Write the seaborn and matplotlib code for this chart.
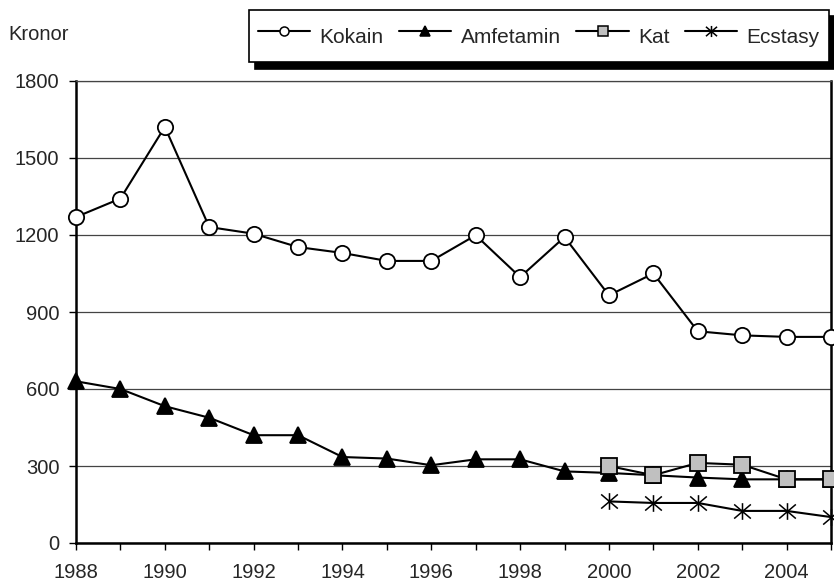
import numpy as np
import pandas as pd
import matplotlib
matplotlib.use("Agg")
import matplotlib.pyplot as plt
import seaborn as sns
from matplotlib.path import Path

# data (kronor per gram)
years = list(range(1988, 2006))
kokain = [1270, 1342, 1621, 1231, 1205, 1153, 1130, 1099, 1099, 1199,
          1036, 1192, 965, 1050, 825, 809, 803, 803]
amfetamin = [630, 600, 533, 488, 420, 420, 335, 329, 303, 326,
             326, 279, 273, 264, 255, 248, 248, 248]
kat_years = [2000, 2001, 2002, 2003, 2004, 2005]
kat = [300, 264, 312, 305, 248, 248]
ecstasy_years = [2000, 2001, 2002, 2003, 2004, 2005]
ecstasy = [162, 156, 156, 125, 125, 101]

sns.set_style("white")
plt.rcParams['font.family'] = ['Liberation Sans', 'DejaVu Sans']

fig = plt.figure(figsize=(8.34, 5.84), dpi=100)
ax = fig.add_axes([76 / 834, 1 - 543 / 584, 755 / 834, 462 / 584])

# asterisk marker like Excel (X plus vertical bar)
star = Path([(-1, -0.85), (1, 0.85), (-1, 0.85), (1, -0.85), (0, -1), (0, 1)],
            [Path.MOVETO, Path.LINETO, Path.MOVETO, Path.LINETO, Path.MOVETO, Path.LINETO])

common = dict(color='black', linewidth=1.5, clip_on=False, markeredgecolor='black')
sns.lineplot(x=years, y=kokain, ax=ax, marker='o', markersize=11, markeredgewidth=1.3,
             markerfacecolor='white', label='Kokain', zorder=5, **common)
sns.lineplot(x=years, y=amfetamin, ax=ax, marker='^', markersize=12, markeredgewidth=1.3,
             markerfacecolor='black', label='Amfetamin', zorder=4, **common)
sns.lineplot(x=kat_years, y=kat, ax=ax, marker='s', markersize=11, markeredgewidth=1.3,
             markerfacecolor='#c0c0c0', label='Kat', zorder=6, **common)
sns.lineplot(x=ecstasy_years, y=ecstasy, ax=ax, marker=star, markersize=12,
             markeredgewidth=1.1, markerfacecolor='none', label='Ecstasy', zorder=5, **common)

ax.set_xlim(1988, 2005)
ax.set_ylim(0, 1800)
ax.set_xticks(years)
ax.set_xticklabels([str(y) if y % 2 == 0 else '' for y in years])
ax.set_yticks(range(0, 1801, 300))
ax.yaxis.grid(True, color='#444444', linewidth=0.9)
ax.set_axisbelow(True)
ax.set_xlabel('')
ax.set_ylabel('')
ax.tick_params(axis='both', direction='out', length=5, width=1, color='black',
               labelsize=14.5, bottom=True, left=True)
ax.tick_params(axis='y', pad=7)
ax.tick_params(axis='x', pad=9.5)

for side in ['left', 'bottom', 'right']:
    ax.spines[side].set_color('black')
    ax.spines[side].set_linewidth(1.8)
ax.spines['top'].set_color('#444444')
ax.spines['top'].set_linewidth(0.9)

fig.text(8 / 834, 1 - 34 / 584, 'Kronor', fontsize=14.5, va='center', ha='left')

leg = ax.legend(loc='upper right', bbox_to_anchor=(829 / 834, 1 - 10 / 584),
                bbox_transform=fig.transFigure, ncol=4, frameon=True, fancybox=False,
                shadow={'color': 'black', 'alpha': 1, 'ox': 4.5, 'oy': -4.5},
                fontsize=15, handlelength=2.5, handleheight=2.1, handletextpad=0.45,
                columnspacing=0.75, borderpad=0.45, borderaxespad=0, framealpha=1)
leg.get_frame().set_edgecolor('black')
leg.get_frame().set_linewidth(1.2)
for h, ms in zip(leg.legend_handles, [6.5, 7.5, 6.5, 8]):
    h.set_markersize(ms)
    h.set_markeredgewidth(1.1)

fig.savefig('out.png', dpi=100)
